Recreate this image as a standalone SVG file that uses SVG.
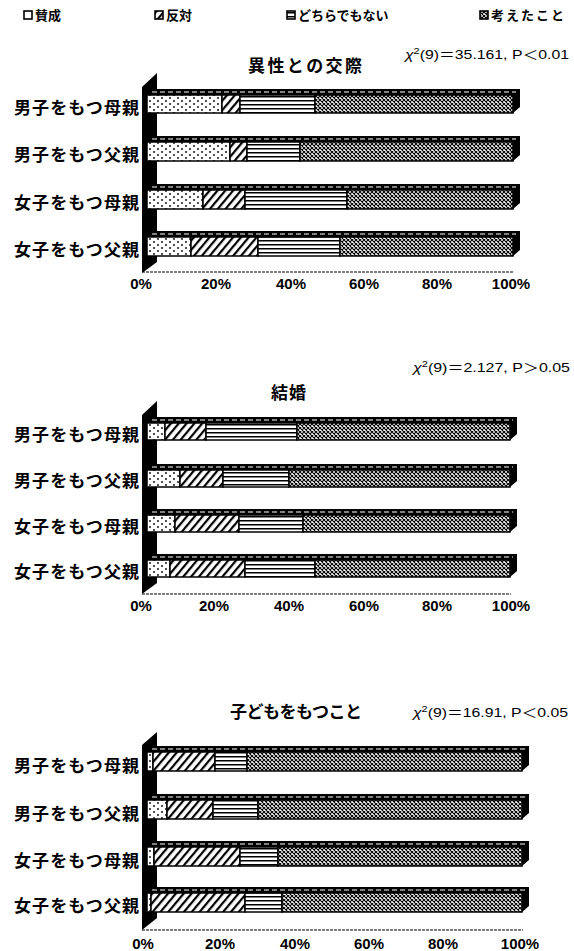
<svg xmlns="http://www.w3.org/2000/svg" width="574" height="951" viewBox="0 0 574 951">
<style>
.lab{font-family:"Noto Sans CJK JP","Noto Sans CJK SC",sans-serif;font-weight:bold;font-size:17px;fill:#000}
.leg{font-family:"Noto Sans CJK JP",sans-serif;font-weight:bold;font-size:13px;fill:#000}
.ttl{font-family:"Noto Sans CJK JP",sans-serif;font-weight:bold;font-size:17px;fill:#000}
.ax{font-family:"Liberation Sans",Arial,sans-serif;font-weight:bold;font-size:15px;fill:#000;text-anchor:middle}
.chi{font-family:"Liberation Sans","Noto Sans CJK JP",sans-serif;font-size:13px;fill:#000}
.seg{stroke:#000;stroke-width:1.5}
.top{fill:#000}
.dash{stroke:#fff;stroke-width:1.2;stroke-dasharray:5 3;fill:none}
.wall{fill:#000}
.floor{stroke:#000;stroke-width:1.2;stroke-dasharray:3 1;fill:none}
.d{fill:url(#pDots)}
.h{fill:url(#pHatch)}
.l{fill:url(#pLines)}
.x{fill:url(#pDense)}
</style>
<defs>
<pattern id="pDots" patternUnits="userSpaceOnUse" width="8" height="6">
<rect width="8" height="6" fill="#fff"/>
<circle cx="2" cy="2" r="0.9" fill="#000"/>
<circle cx="6" cy="5" r="0.9" fill="#000"/>
</pattern>
<pattern id="pHatch" patternUnits="userSpaceOnUse" width="6" height="6" patternTransform="rotate(40)">
<rect width="6" height="6" fill="#fff"/>
<rect width="2.2" height="6" fill="#000"/>
</pattern>
<pattern id="pLines" patternUnits="userSpaceOnUse" width="6" height="4">
<rect width="6" height="4" fill="#fff"/>
<rect width="6" height="1.5" fill="#000"/>
</pattern>
<pattern id="pDense" patternUnits="userSpaceOnUse" width="4" height="4">
<rect width="4" height="4" fill="#fff"/>
<path d="M0,0L4,4M4,0L0,4" stroke="#000" stroke-width="1.1"/>
</pattern>
</defs>
<rect width="574" height="951" fill="#fff"/>

<!-- legend -->
<g id="legend">
<rect x="24" y="11" width="8" height="8" fill="#fff" stroke="#000" stroke-width="1.6"/>
<text class="leg" x="35" y="20">賛成</text>
<rect x="155" y="11" width="8" height="8" class="h" stroke="#000" stroke-width="1.6"/>
<text class="leg" x="166" y="20">反対</text>
<rect x="287" y="11" width="8" height="8" class="l" stroke="#000" stroke-width="1.6"/>
<text class="leg" x="298" y="20">どちらでもない</text>
<rect x="480" y="11" width="8" height="8" class="x" stroke="#000" stroke-width="1.6"/>
<text class="leg" x="491" y="20" letter-spacing="2">考えたこと</text>
</g>

<!-- chart 1 -->
<g id="chart1">
<text class="chi" x="405" y="59" textLength="164" lengthAdjust="spacingAndGlyphs"><tspan font-style="italic">χ</tspan><tspan dy="-5" font-size="9">2</tspan><tspan dy="5">(9)＝35.161, P＜0.01</tspan></text>
<text class="ttl" x="248" y="72" textLength="114" lengthAdjust="spacing">異性との交際</text>
<polygon class="wall" points="142,87 157,73 157,262 142,273"/>
<line class="floor" x1="142" y1="272" x2="514" y2="272"/>
<g id="c1r1">
<text class="lab" x="139" y="114" text-anchor="end" textLength="125">男子をもつ母親</text>
<polygon class="top" points="147,95 154,89 520,89 520,107 513,113 513,95"/>
<line class="dash" x1="152" y1="92" x2="516" y2="92"/>
<rect class="seg d" x="147" y="95" width="75" height="18"/>
<rect class="seg h" x="222" y="95" width="18" height="18"/>
<rect class="seg l" x="240" y="95" width="75" height="18"/>
<rect class="seg x" x="315" y="95" width="198" height="18"/>
</g>
<g id="c1r2">
<text class="lab" x="139" y="161" text-anchor="end" textLength="125">男子をもつ父親</text>
<polygon class="top" points="147,142 154,136 520,136 520,155 513,161 513,142"/>
<line class="dash" x1="152" y1="139" x2="516" y2="139"/>
<rect class="seg d" x="147" y="142" width="83" height="19"/>
<rect class="seg h" x="230" y="142" width="17" height="19"/>
<rect class="seg l" x="247" y="142" width="53" height="19"/>
<rect class="seg x" x="300" y="142" width="213" height="19"/>
</g>
<g id="c1r3">
<text class="lab" x="139" y="209" text-anchor="end" textLength="125">女子をもつ母親</text>
<polygon class="top" points="147,190 154,184 520,184 520,203 513,209 513,190"/>
<line class="dash" x1="152" y1="187" x2="516" y2="187"/>
<rect class="seg d" x="147" y="190" width="56" height="19"/>
<rect class="seg h" x="203" y="190" width="42" height="19"/>
<rect class="seg l" x="245" y="190" width="102" height="19"/>
<rect class="seg x" x="347" y="190" width="166" height="19"/>
</g>
<g id="c1r4">
<text class="lab" x="139" y="256" text-anchor="end" textLength="125">女子をもつ父親</text>
<polygon class="top" points="147,237 154,231 520,231 520,250 513,256 513,237"/>
<line class="dash" x1="152" y1="234" x2="516" y2="234"/>
<rect class="seg d" x="147" y="237" width="44" height="19"/>
<rect class="seg h" x="191" y="237" width="67" height="19"/>
<rect class="seg l" x="258" y="237" width="82" height="19"/>
<rect class="seg x" x="340" y="237" width="173" height="19"/>
</g>
<g id="c1axis">
<text class="ax" x="141" y="289">0%</text>
<text class="ax" x="216" y="289">20%</text>
<text class="ax" x="291" y="289">40%</text>
<text class="ax" x="364" y="289">60%</text>
<text class="ax" x="437" y="289">80%</text>
<text class="ax" x="511" y="289">100%</text>
</g>
</g>

<!-- chart 2 -->
<g id="chart2">
<text class="chi" x="413" y="372" textLength="157" lengthAdjust="spacingAndGlyphs"><tspan font-style="italic">χ</tspan><tspan dy="-5" font-size="9">2</tspan><tspan dy="5">(9)＝2.127, P＞0.05</tspan></text>
<text class="ttl" x="271" y="399" textLength="35" lengthAdjust="spacing">結婚</text>
<polygon class="wall" points="142,415 157,401 157,583 142,594"/>
<line class="floor" x1="142" y1="594" x2="511" y2="594"/>
<g id="c2r1">
<text class="lab" x="139" y="441" text-anchor="end" textLength="125">男子をもつ母親</text>
<polygon class="top" points="147,423 154,417 517,417 517,434 510,440 510,423"/>
<line class="dash" x1="152" y1="420" x2="513" y2="420"/>
<rect class="seg d" x="147" y="423" width="18" height="17"/>
<rect class="seg h" x="165" y="423" width="41" height="17"/>
<rect class="seg l" x="206" y="423" width="91" height="17"/>
<rect class="seg x" x="297" y="423" width="213" height="17"/>
</g>
<g id="c2r2">
<text class="lab" x="139" y="487" text-anchor="end" textLength="125">男子をもつ父親</text>
<polygon class="top" points="147,470 154,464 517,464 517,481 510,487 510,470"/>
<line class="dash" x1="152" y1="467" x2="513" y2="467"/>
<rect class="seg d" x="147" y="470" width="33" height="17"/>
<rect class="seg h" x="180" y="470" width="43" height="17"/>
<rect class="seg l" x="223" y="470" width="66" height="17"/>
<rect class="seg x" x="289" y="470" width="221" height="17"/>
</g>
<g id="c2r3">
<text class="lab" x="139" y="533" text-anchor="end" textLength="125">女子をもつ母親</text>
<polygon class="top" points="147,515 154,509 517,509 517,526 510,532 510,515"/>
<line class="dash" x1="152" y1="512" x2="513" y2="512"/>
<rect class="seg d" x="147" y="515" width="28" height="17"/>
<rect class="seg h" x="175" y="515" width="64" height="17"/>
<rect class="seg l" x="239" y="515" width="64" height="17"/>
<rect class="seg x" x="303" y="515" width="207" height="17"/>
</g>
<g id="c2r4">
<text class="lab" x="139" y="578" text-anchor="end" textLength="125">女子をもつ父親</text>
<polygon class="top" points="147,560 154,554 517,554 517,571 510,577 510,560"/>
<line class="dash" x1="152" y1="557" x2="513" y2="557"/>
<rect class="seg d" x="147" y="560" width="23" height="17"/>
<rect class="seg h" x="170" y="560" width="75" height="17"/>
<rect class="seg l" x="245" y="560" width="70" height="17"/>
<rect class="seg x" x="315" y="560" width="195" height="17"/>
</g>
<g id="c2axis">
<text class="ax" x="141" y="611">0%</text>
<text class="ax" x="214" y="611">20%</text>
<text class="ax" x="289" y="611">40%</text>
<text class="ax" x="364" y="611">60%</text>
<text class="ax" x="437" y="611">80%</text>
<text class="ax" x="511" y="611">100%</text>
</g>
</g>

<!-- chart 3 -->
<g id="chart3">
<text class="chi" x="413" y="717" textLength="155" lengthAdjust="spacingAndGlyphs"><tspan font-style="italic">χ</tspan><tspan dy="-5" font-size="9">2</tspan><tspan dy="5">(9)＝16.91, P＜0.05</tspan></text>
<text class="ttl" x="230" y="718" textLength="132" lengthAdjust="spacing">子どもをもつこと</text>
<polygon class="wall" points="142,745 157,732 157,918 142,930"/>
<line class="floor" x1="142" y1="930" x2="523" y2="930"/>
<g id="c3r1">
<text class="lab" x="139" y="772" text-anchor="end" textLength="125">男子をもつ母親</text>
<polygon class="top" points="147,752 154,746 529,746 529,765 522,771 522,752"/>
<line class="dash" x1="152" y1="749" x2="525" y2="749"/>
<rect class="seg d" x="147" y="752" width="6" height="19"/>
<rect class="seg h" x="153" y="752" width="62" height="19"/>
<rect class="seg l" x="215" y="752" width="32" height="19"/>
<rect class="seg x" x="247" y="752" width="275" height="19"/>
</g>
<g id="c3r2">
<text class="lab" x="139" y="820" text-anchor="end" textLength="125">男子をもつ父親</text>
<polygon class="top" points="147,800 154,794 529,794 529,813 522,819 522,800"/>
<line class="dash" x1="152" y1="797" x2="525" y2="797"/>
<rect class="seg d" x="147" y="800" width="20" height="19"/>
<rect class="seg h" x="167" y="800" width="46" height="19"/>
<rect class="seg l" x="213" y="800" width="45" height="19"/>
<rect class="seg x" x="258" y="800" width="264" height="19"/>
</g>
<g id="c3r3">
<text class="lab" x="139" y="867" text-anchor="end" textLength="125">女子をもつ母親</text>
<polygon class="top" points="147,847 154,841 529,841 529,860 522,866 522,847"/>
<line class="dash" x1="152" y1="844" x2="525" y2="844"/>
<rect class="seg d" x="147" y="847" width="7" height="19"/>
<rect class="seg h" x="154" y="847" width="86" height="19"/>
<rect class="seg l" x="240" y="847" width="38" height="19"/>
<rect class="seg x" x="278" y="847" width="244" height="19"/>
</g>
<g id="c3r4">
<text class="lab" x="139" y="912" text-anchor="end" textLength="125">女子をもつ父親</text>
<polygon class="top" points="147,893 154,887 529,887 529,906 522,912 522,893"/>
<line class="dash" x1="152" y1="890" x2="525" y2="890"/>
<rect class="seg d" x="147" y="893" width="4" height="19"/>
<rect class="seg h" x="151" y="893" width="94" height="19"/>
<rect class="seg l" x="245" y="893" width="37" height="19"/>
<rect class="seg x" x="282" y="893" width="240" height="19"/>
</g>
<g id="c3axis">
<text class="ax" x="143" y="949">0%</text>
<text class="ax" x="220" y="949">20%</text>
<text class="ax" x="295" y="949">40%</text>
<text class="ax" x="369" y="949">60%</text>
<text class="ax" x="443" y="949">80%</text>
<text class="ax" x="520" y="949">100%</text>
</g>
</g>
</svg>
